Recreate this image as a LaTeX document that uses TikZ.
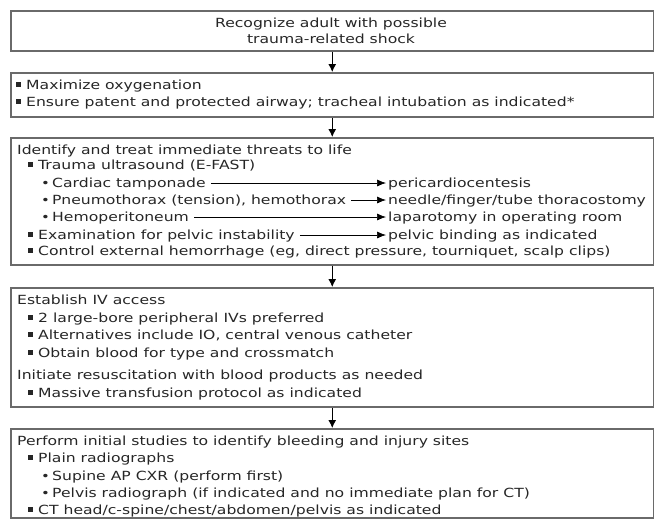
\documentclass[tikz,border=0pt]{standalone}
\usepackage{fontspec}
\setmainfont{DejaVu Sans}[FakeStretch=1.24]
\usetikzlibrary{arrows.meta}
\definecolor{txt}{HTML}{262626}
\definecolor{brd}{HTML}{6A6A6A}
\newcommand{\bq}{\makebox[10pt][l]{\raisebox{2.4pt}{\rule{4.6pt}{4.6pt}}}}
\newcommand{\bd}{\makebox[11pt][l]{\fontsize{12}{12}\selectfont •}}
\begin{document}
\begin{tikzpicture}[x=1pt,y=-1pt,
  box/.style={draw=brd,line width=1.5pt,rectangle,anchor=north west,inner sep=0pt,minimum width=643pt},
  ln/.style={anchor=base west,inner sep=0pt,text=txt,font=\fontsize{12.6}{15}\selectfont},
  ctr/.style={anchor=base,inner sep=0pt,text=txt,font=\fontsize{12.6}{15}\selectfont},
  flow/.style={-{Latex[length=8pt,width=8pt]},line width=1pt,black},
  sub/.style={-{Latex[length=9pt,width=7pt]},line width=0.7pt,black,shorten <=5pt,shorten >=2pt}]
\useasboundingbox (0,0) rectangle (654,520);
\fill[white] (0,0) rectangle (654,520);
% boxes
\node[box,minimum height=40pt] (b1) at (10,10) {};
\node[box,minimum height=44pt] (b2) at (10,72) {};
\node[box,minimum height=127pt] (b3) at (10,137) {};
\node[box,minimum height=119pt] (b4) at (10,287) {};
\node[box,minimum height=89pt] (b5) at (10,428) {};
% connectors
\draw[flow] (b1.south) -- (b2.north);
\draw[flow] (b2.south) -- (b3.north);
\draw[flow] (b3.south) -- (b4.north);
\draw[flow] (b4.south) -- (b5.north);
% box 1
\node[ctr] (t11) at (331,27) {Recognize adult with possible};
\node[ctr] (t12) at (331,43) {trauma-related shock};
% box 2
\node[ln] (t21) at (16,89) {\bq{}Maximize oxygenation};
\node[ln] (t22) at (16,106) {\bq{}Ensure patent and protected airway; tracheal intubation as indicated*};
% box 3
\node[ln] (t31) at (17,154) {Identify and treat immediate threats to life};
\node[ln] (t32) at (28,169) {\bq{}Trauma ultrasound (E-FAST)};
\node[ln] (t33) at (41,187) {\bd{}Cardiac tamponade};
\node[ln] (t34) at (41,204) {\bd{}Pneumothorax (tension), hemothorax};
\node[ln] (t35) at (41,221) {\bd{}Hemoperitoneum};
\node[ln] (t36) at (28,239) {\bq{}Examination for pelvic instability};
\node[ln] (t37) at (28,255) {\bq{}Control external hemorrhage (eg, direct pressure, tourniquet, scalp clips)};
\node[ln] (r33) at (388,187) {pericardiocentesis};
\node[ln] (r34) at (388,204) {needle/finger/tube thoracostomy};
\node[ln] (r35) at (388,221) {laparotomy in operating room};
\node[ln] (r36) at (388,239) {pelvic binding as indicated};
\draw[sub] (t33.base east) ++(0,-4) coordinate (a33) -- (a33 -| r33.west);
\draw[sub] (t34.base east) ++(0,-4) coordinate (a34) -- (a34 -| r34.west);
\draw[sub] (t35.base east) ++(0,-4) coordinate (a35) -- (a35 -| r35.west);
\draw[sub] (t36.base east) ++(0,-4) coordinate (a36) -- (a36 -| r36.west);
% box 4
\node[ln] (t41) at (17,304) {Establish IV access};
\node[ln] (t42) at (28,322) {\bq{}2 large-bore peripheral IVs preferred};
\node[ln] (t43) at (28,339) {\bq{}Alternatives include IO, central venous catheter};
\node[ln] (t44) at (28,357) {\bq{}Obtain blood for type and crossmatch};
\node[ln] (t45) at (17,379) {Initiate resuscitation with blood products as needed};
\node[ln] (t46) at (28,397) {\bq{}Massive transfusion protocol as indicated};
% box 5
\node[ln] (t51) at (17,445) {Perform initial studies to identify bleeding and injury sites};
\node[ln] (t52) at (28,462) {\bq{}Plain radiographs};
\node[ln] (t53) at (41,480) {\bd{}Supine AP CXR (perform first)};
\node[ln] (t54) at (41,497) {\bd{}Pelvis radiograph (if indicated and no immediate plan for CT)};
\node[ln] (t55) at (28,514) {\bq{}CT head/c-spine/chest/abdomen/pelvis as indicated};
\end{tikzpicture}
\end{document}
